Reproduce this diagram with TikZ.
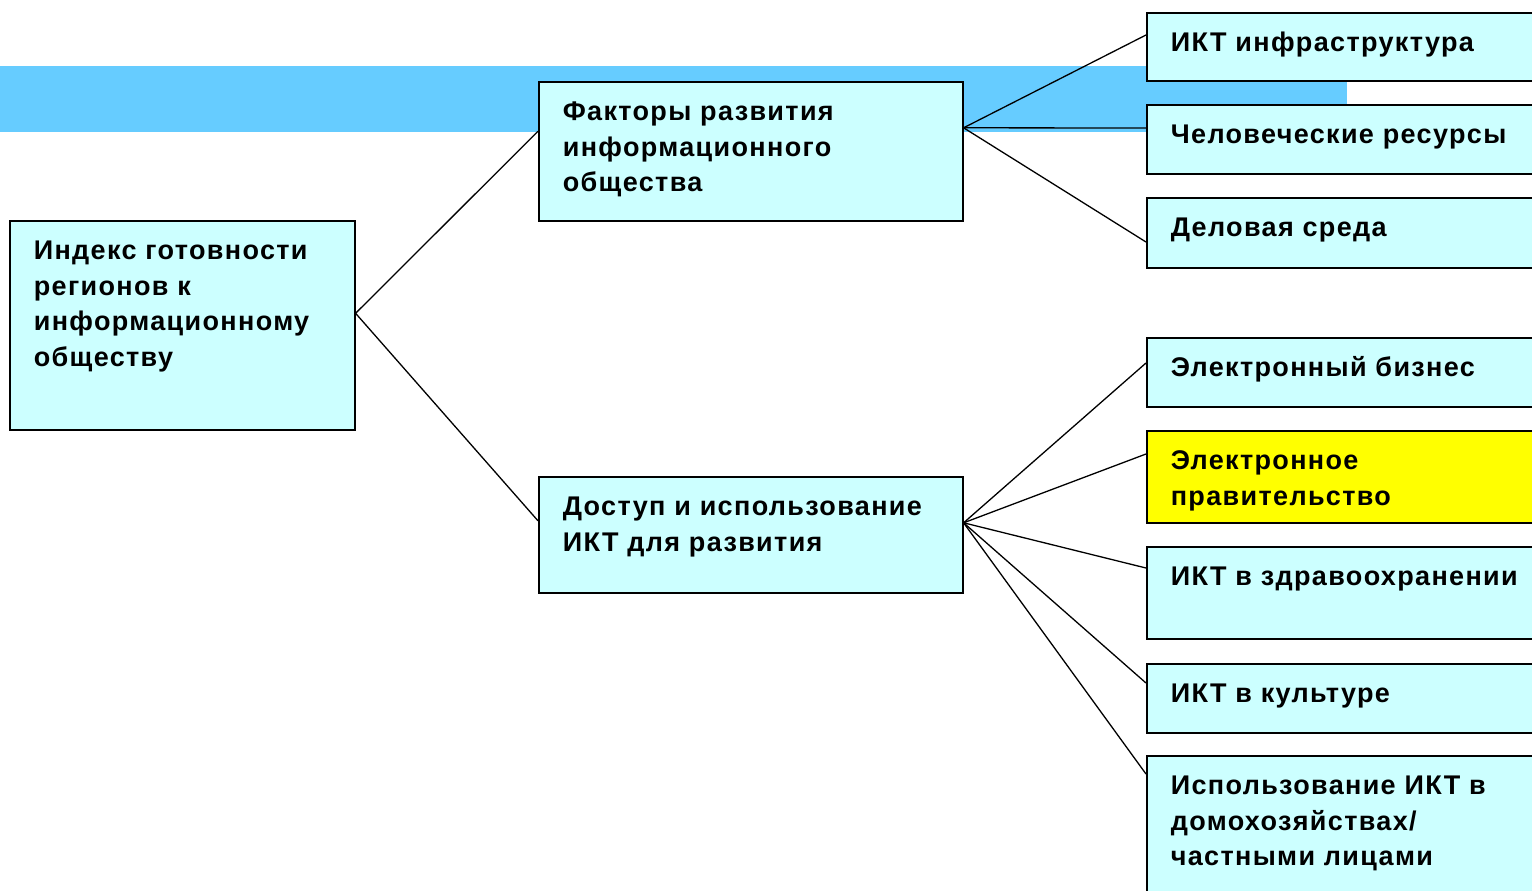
\documentclass[tikz,border=0pt]{standalone}
\usepackage{fontspec}
\setmainfont{Liberation Sans}[LetterSpace=5]
\definecolor{bandblue}{HTML}{66CCFF}
\definecolor{boxcyan}{HTML}{CCFFFF}
\definecolor{boxyellow}{HTML}{FFFF00}
\newcommand\boxtxt[3]{\parbox[c][#2][t]{#1}{\leftskip=24pt\rightskip=0pt plus 1fil\fontsize{27}{35.7}\selectfont\bfseries\rule{0pt}{38.5pt}#3}}
\tikzset{
  box/.style={draw=black, line width=1.6pt, fill=boxcyan, inner sep=0pt, anchor=north west},
  link/.style={draw=black, line width=1.3pt}
}
\begin{document}
\begin{tikzpicture}[x=1pt,y=-1pt]
\useasboundingbox (0,0) rectangle (1532,891);
\clip (0,0) rectangle (1532,891);
\fill[bandblue] (0,66) rectangle (1347,132);
\node[box] (A) at (9,220) {\boxtxt{345pt}{209pt}{Индекс готовности\\регионов к\\информационному\\обществу}};
\node[box] (B) at (538,81) {\boxtxt{424pt}{139pt}{Факторы развития\\информационного\\общества}};
\node[box] (C) at (538,476) {\boxtxt{424pt}{116pt}{Доступ и использование\\ИКТ для развития}};
\node[box] (R1) at (1146,12) {\boxtxt{400pt}{68pt}{ИКТ инфраструктура}};
\node[box] (R2) at (1146,104) {\boxtxt{400pt}{69pt}{Человеческие ресурсы}};
\node[box] (R3) at (1146,197) {\boxtxt{400pt}{70pt}{Деловая среда}};
\node[box] (R4) at (1146,337) {\boxtxt{400pt}{69pt}{Электронный бизнес}};
\node[box, fill=boxyellow] (R5) at (1146,430) {\boxtxt{400pt}{92pt}{Электронное\\правительство}};
\node[box] (R6) at (1146,546) {\boxtxt{400pt}{92pt}{ИКТ в здравоохранении}};
\node[box] (R7) at (1146,663) {\boxtxt{400pt}{69pt}{ИКТ в культуре}};
\node[box] (R8) at (1146,755) {\boxtxt{400pt}{150pt}{Использование ИКТ в\\домохозяйствах/\\частными лицами}};
\draw[link] ([yshift=12pt]A.east) -- ([yshift=20pt]B.west);
\draw[link] ([yshift=12pt]A.east) -- ([yshift=14pt]C.west);
\draw[link] ([yshift=23.5pt]B.east) -- ([yshift=-23pt]R1.north west);
\draw[link] ([yshift=23.5pt]B.east) -- ([yshift=-24pt]R2.north west);
\draw[link] ([yshift=23.5pt]B.east) -- ([yshift=-45pt]R3.north west);
\draw[link] ([yshift=12pt]C.east) -- ([yshift=-26pt]R4.north west);
\draw[link] ([yshift=12pt]C.east) -- ([yshift=-24pt]R5.north west);
\draw[link] ([yshift=12pt]C.east) -- ([yshift=-22pt]R6.north west);
\draw[link] ([yshift=12pt]C.east) -- ([yshift=-20pt]R7.north west);
\draw[link] ([yshift=12pt]C.east) -- ([yshift=-19pt]R8.north west);
\end{tikzpicture}
\end{document}
